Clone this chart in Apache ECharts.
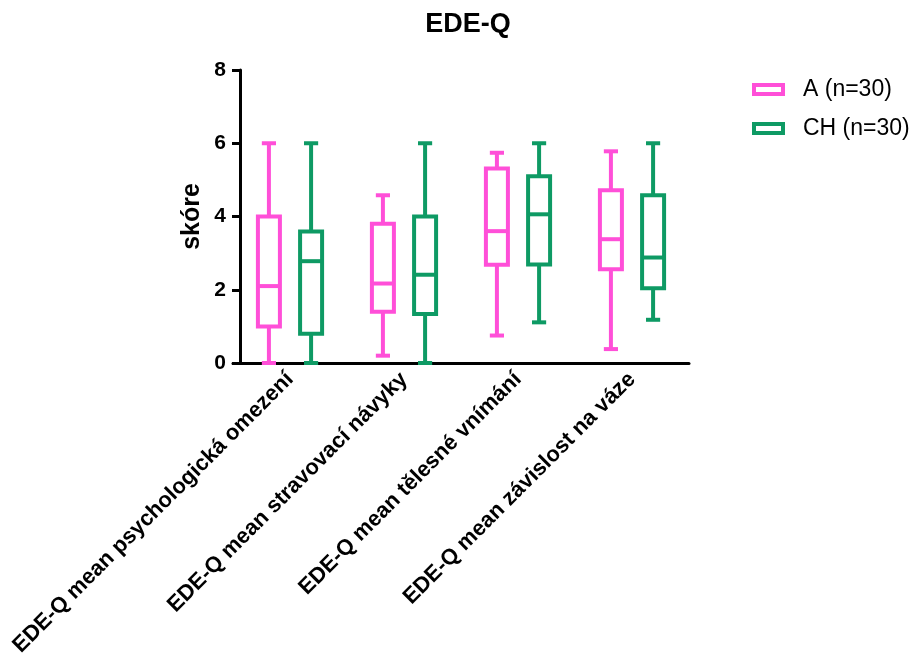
<!DOCTYPE html>
<html>
<head>
<meta charset="utf-8">
<title>EDE-Q</title>
<script src="https://cdn.jsdelivr.net/npm/echarts@6/dist/echarts.min.js"></script>
<style>
  html, body { margin: 0; padding: 0; background: #fff; }
  #chart { width: 916px; height: 667px; }
</style>
</head>
<body>
<div id="chart"></div>
<script>
// Subscale labels
const categories = [
  'EDE-Q mean psychologická omezení',
  'EDE-Q mean stravovací návyky',
  'EDE-Q mean tělesné vnímání',
  'EDE-Q mean závislost na váze'
];

// Group A (n=30): min, lower quartile, median, upper quartile, max
const aMin = [0.00, 0.20, 0.75, 0.38];
const aQ1  = [1.00, 1.40, 2.68, 2.56];
const aMed = [2.10, 2.17, 3.60, 3.38];
const aQ3  = [4.00, 3.80, 5.31, 4.72];
const aMax = [6.00, 4.58, 5.74, 5.78];

// Group CH (n=30)
const chMin = [0.00, 0.00, 1.11, 1.18];
const chQ1  = [0.80, 1.34, 2.69, 2.04];
const chMed = [2.78, 2.41, 4.06, 2.88];
const chQ3  = [3.59, 4.00, 5.10, 4.58];
const chMax = [6.00, 6.00, 6.00, 6.00];

const yTicks = [0, 2, 4, 6, 8];

const seriesNames = ['A (n=30)', 'CH (n=30)'];
const colorA = '#FF4FD8';
const colorCH = '#0E9A64';
const FONT = '"Liberation Sans", Arial, sans-serif';

function rows(mins, q1s, meds, q3s, maxs) {
  return categories.map((c, i) => [i, mins[i], q1s[i], meds[i], q3s[i], maxs[i]]);
}

// Box-and-whisker glyph, shifted left (-1) or right (+1) inside each category band
function makeRender(side, color) {
  return function (params, api) {
    const i = api.value(0);
    const band = api.size([1, 0])[0];
    const cx = api.coord([i, 0])[0] + side * band * 0.185;
    const half = band * 0.0965;
    const cap = band * 0.062;
    const y = k => api.coord([i, api.value(k)])[1];
    const yMin = y(1), yQ1 = y(2), yMed = y(3), yQ3 = y(4), yMax = y(5);
    const st = { stroke: color, lineWidth: 4, fill: null, lineCap: 'butt' };
    return {
      type: 'group',
      children: [
        { type: 'line', shape: { x1: cx, y1: yMin, x2: cx, y2: yQ1 }, style: st },
        { type: 'line', shape: { x1: cx, y1: yQ3, x2: cx, y2: yMax }, style: st },
        { type: 'line', shape: { x1: cx - cap, y1: yMin, x2: cx + cap, y2: yMin }, style: st },
        { type: 'line', shape: { x1: cx - cap, y1: yMax, x2: cx + cap, y2: yMax }, style: st },
        { type: 'rect', shape: { x: cx - half, y: yQ3, width: 2 * half, height: yQ1 - yQ3 },
          style: { stroke: color, lineWidth: 4, fill: '#fff' } },
        { type: 'line', shape: { x1: cx - half, y1: yMed, x2: cx + half, y2: yMed }, style: st }
      ]
    };
  };
}

const chart = echarts.init(document.getElementById('chart'), null, { renderer: 'canvas' });

chart.setOption({
  backgroundColor: '#fff',
  animation: false,
  title: {
    text: 'EDE-Q',
    left: 463,
    textAlign: 'center',
    top: 6,
    textStyle: { fontFamily: FONT, fontWeight: 'bold', fontSize: 27, color: '#000' }
  },
  legend: {
    orient: 'vertical',
    left: 752,
    top: 78,
    padding: 0,
    itemWidth: 29,
    itemHeight: 9,
    itemGap: 16,
    icon: 'rect',
    textStyle: { fontFamily: FONT, fontSize: 23, color: '#000', padding: [0, 0, 0, 15] },
    data: [
      { name: seriesNames[0], itemStyle: { color: '#fff', borderColor: colorA, borderWidth: 4 } },
      { name: seriesNames[1], itemStyle: { color: '#fff', borderColor: colorCH, borderWidth: 4 } }
    ]
  },
  grid: { left: 233, right: 227, top: 70, bottom: 304 },
  xAxis: {
    type: 'category',
    data: categories,
    boundaryGap: true,
    axisLine: { lineStyle: { color: '#000', width: 3 } },
    axisTick: { alignWithLabel: true, length: 8, lineStyle: { color: '#000', width: 3 } },
    axisLabel: {
      rotate: 45,
      margin: 13,
      interval: 0,
      fontFamily: FONT,
      fontWeight: 'bold',
      fontSize: 22,
      color: '#000'
    }
  },
  yAxis: {
    type: 'value',
    min: yTicks[0],
    max: yTicks[yTicks.length - 1],
    interval: 2,
    offset: -7,
    name: 'skóre',
    nameLocation: 'middle',
    nameGap: 35,
    nameTextStyle: { fontFamily: FONT, fontWeight: 'bold', fontSize: 25, color: '#000' },
    splitLine: { show: false },
    axisLine: { show: true, lineStyle: { color: '#000', width: 3 } },
    axisTick: { show: true, length: 8, lineStyle: { color: '#000', width: 3 } },
    axisLabel: { margin: 14, fontFamily: FONT, fontWeight: 'bold', fontSize: 21, color: '#000' }
  },
  series: [
    {
      name: seriesNames[0],
      type: 'custom',
      renderItem: makeRender(-1, colorA),
      itemStyle: { color: colorA },
      encode: { x: 0, y: [1, 2, 3, 4, 5] },
      data: rows(aMin, aQ1, aMed, aQ3, aMax),
      z: 3
    },
    {
      name: seriesNames[1],
      type: 'custom',
      renderItem: makeRender(1, colorCH),
      itemStyle: { color: colorCH },
      encode: { x: 0, y: [1, 2, 3, 4, 5] },
      data: rows(chMin, chQ1, chMed, chQ3, chMax),
      z: 3
    }
  ]
});
</script>
</body>
</html>
